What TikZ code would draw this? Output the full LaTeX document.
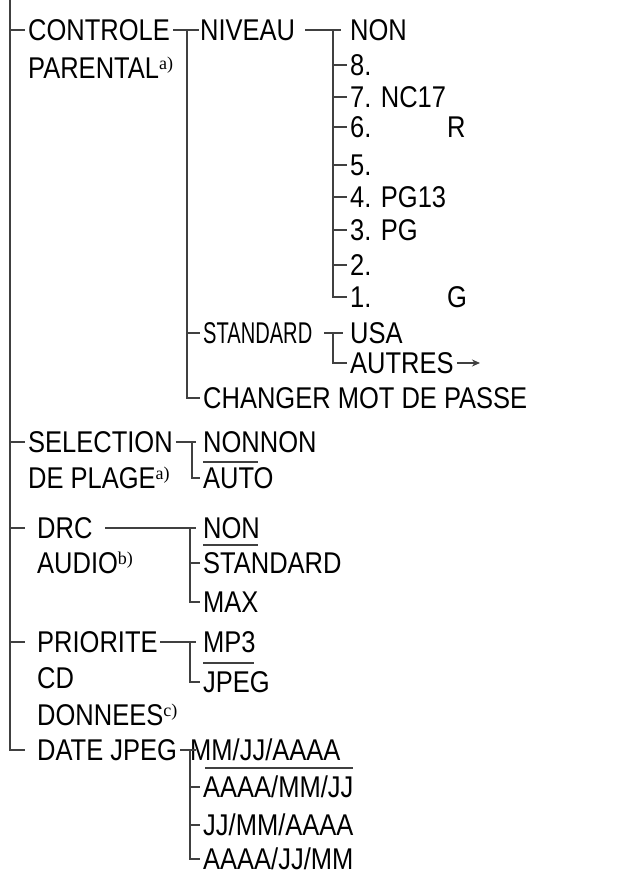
\documentclass[tikz,border=0pt]{standalone}
\usepackage{fontspec}
\usetikzlibrary{arrows.meta}
\setmainfont{Liberation Sans}[FakeStretch=0.85]
\newfontfamily\narrowf{Liberation Sans}[FakeStretch=0.67]
\newfontfamily\supf{Liberation Serif}
\newcommand{\myfn}[1]{\raisebox{9pt}{\supf\fontsize{18}{18}\selectfont #1}}
\begin{document}
\begin{tikzpicture}[x=1pt,y=-1pt,
  lbl/.style={anchor=west,inner ysep=0pt,inner xsep=3pt,text height=21.5pt,text depth=0pt,font=\fontsize{30}{30}\selectfont},
  ln/.style={draw=black!75,line width=1.6pt}]
\useasboundingbox (0,0) rectangle (617,873);
\fill[white] (0,0) rectangle (617,873);
% level 1
\node[lbl] (cp1) at (25,30) {CONTROLE};
\node[lbl] (cp2) at (25,68) {PARENTAL\myfn{a)}};
\node[lbl] (sp1) at (25,442) {SELECTION};
\node[lbl] (sp2) at (25,478) {DE PLAGE\myfn{a)}};
\node[lbl] (dr1) at (34,528) {DRC};
\node[lbl] (dr2) at (34,563) {AUDIO\myfn{b)}};
\node[lbl] (pr1) at (34,642) {PRIORITE};
\node[lbl] (pr2) at (34,678) {CD};
\node[lbl] (pr3) at (34,715) {DONNEES\myfn{c)}};
\node[lbl] (dj) at (34,750) {DATE JPEG};
% level 2
\node[lbl] (niv) at (197,30) {NIVEAU};
\node[lbl,font=\narrowf\fontsize{30}{30}\selectfont] (std) at (200,333) {STANDARD};
\node[lbl] (chg) at (200,398) {CHANGER MOT DE PASSE};
% level 3
\node[lbl] (n0) at (347,30) {NON};
\node[lbl] (n8) at (347,65) {8.};
\node[lbl] (n7) at (347,97) {7. NC17};
\node[lbl] (n6) at (347,127) {6.};
\node[lbl] (r) at (444,127) {R};
\node[lbl] (n5) at (347,165) {5.};
\node[lbl] (n4) at (347,197) {4. PG13};
\node[lbl] (n3) at (347,230) {3. PG};
\node[lbl] (n2) at (347,265) {2.};
\node[lbl] (n1) at (347,297) {1.};
\node[lbl] (g) at (444,297) {G};
\node[lbl] (usa) at (347,333) {USA};
\node[lbl] (aut) at (347,363) {AUTRES};
\coordinate (arr) at (480,363);
% other options
\node[lbl] (nn) at (200,442) {NONNON};
\node[lbl] (auto) at (200,478) {AUTO};
\node[lbl] (dnon) at (200,528) {NON};
\node[lbl] (dstd) at (200,563) {STANDARD};
\node[lbl] (dmax) at (200,602) {MAX};
\node[lbl] (mp3) at (200,642) {MP3};
\node[lbl] (jpg) at (200,682) {JPEG};
\node[lbl] (d1) at (187,750) {MM/JJ/AAAA};
\node[lbl] (d2) at (200,787) {AAAA/MM/JJ};
\node[lbl] (d3) at (200,825) {JJ/MM/AAAA};
\node[lbl] (d4) at (200,859) {AAAA/JJ/MM};
% main trunk
\draw[ln] (10,0) |- (25,750);
\foreach \n in {cp1,sp1} \draw[ln] (10,0 |- \n.west) -- (\n.west);
\foreach \n in {dr1,pr1} \draw[ln] (10,0 |- \n.west) -- (25,0 |- \n.west);
% controle
\draw[ln] (cp1.east) -- ++(26,0);
\draw[ln] (187,30) |- (chg.west);
\draw[ln] (187,333) -- (std.west);
\draw[ln] (305,30) -- (341,30);
\draw[ln] (333,30) |- (n1.west);
\foreach \n in {n8,n7,n6,n5,n4,n3,n2} \draw[ln] (333,0 |- \n.west) -- (\n.west);
\draw[ln] (std.east) ++(9,0) -- (343,333);
\draw[ln] (333,333) |- (aut.west);
\draw[ln,-{Stealth[length=8pt,width=7pt]}] (aut.east) -- (arr);
% selection
\draw[ln] (sp1.east) -- (196,442);
\draw[ln] (192,442) |- (auto.west);
\draw[ln] (203,462) -- (258,462);
% drc
\draw[ln] (105,528) -- (196,528);
\draw[ln] (190,528) |- (dmax.west);
\draw[ln] (190,563) -- (dstd.west);
\draw[ln] (203,545) -- (258,545);
% priorite
\draw[ln] (160,642) -- (196,642);
\draw[ln] (190,642) |- (jpg.west);
\draw[ln] (203,663) -- (254,663);
% date
\draw[ln] (dj.east) -- (196,750);
\draw[ln] (190,750) |- (d4.west);
\foreach \n in {d2,d3} \draw[ln] (190,0 |- \n.west) -- (\n.west);
\draw[ln] (205,768) -- (353,768);
\end{tikzpicture}
\end{document}
